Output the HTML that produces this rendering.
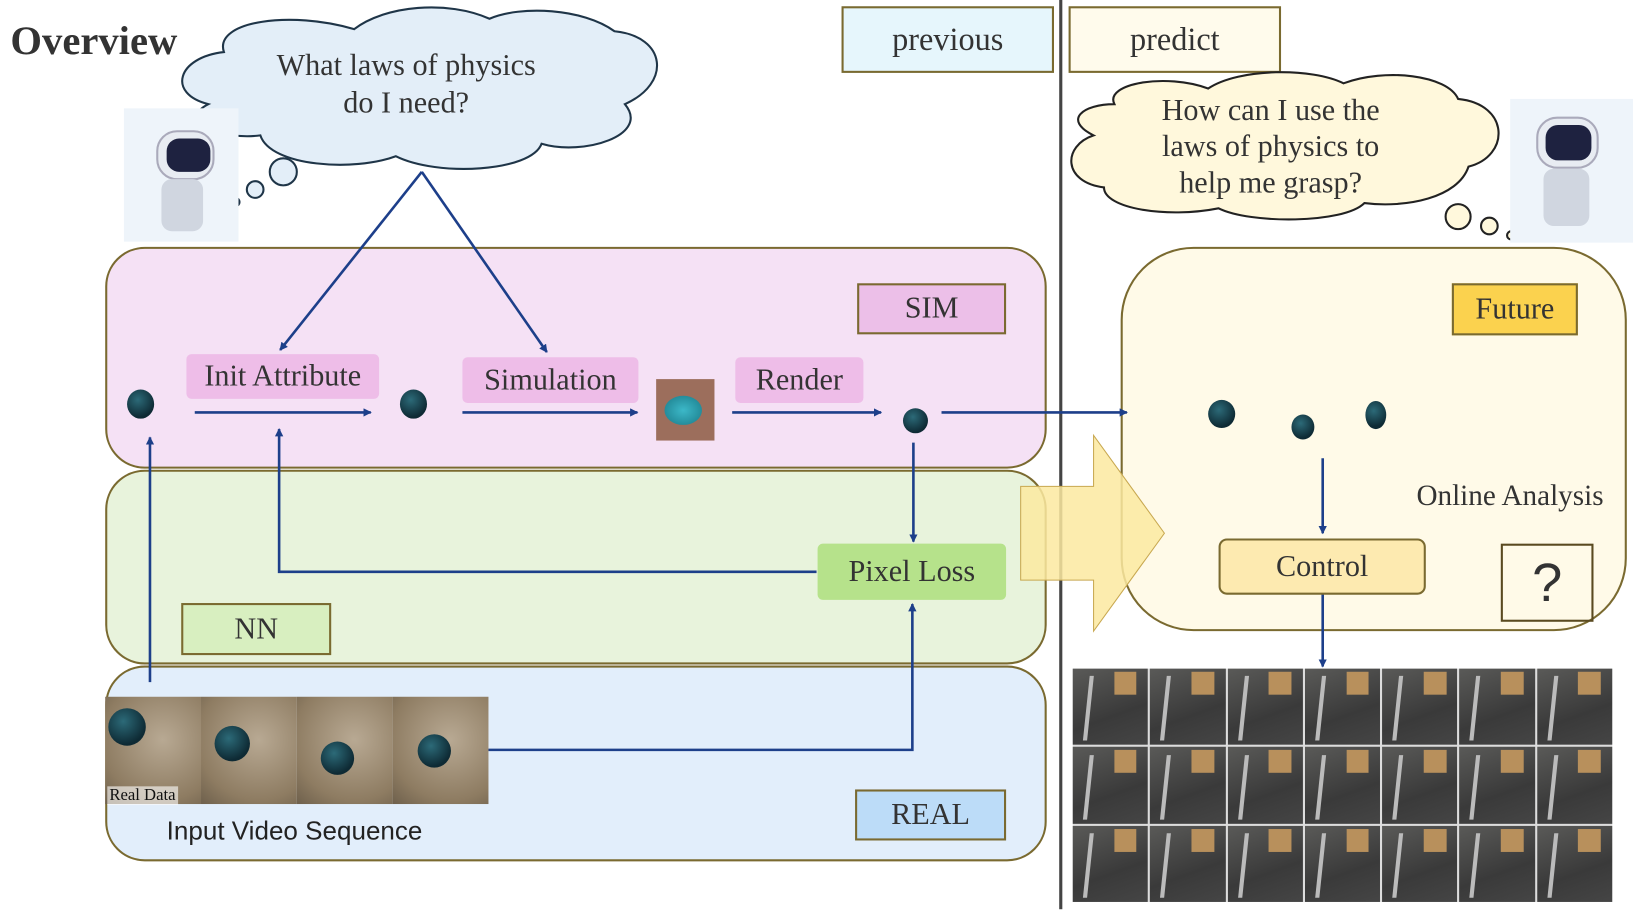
<!DOCTYPE html>
<html><head><style>
html,body{margin:0;width:1633px;height:910px;background:#fff;overflow:hidden}
#w{position:absolute;left:0;top:0;width:1568px;height:874px;transform:scale(1.0415);transform-origin:0 0;font-family:"Liberation Serif",serif;color:#333}
.a{position:absolute;box-sizing:border-box}
.t{display:flex;align-items:center;justify-content:center;font-size:29px}
.ph{background:linear-gradient(160deg,#5a5a58,#3a3a3a 60%,#454545);position:relative;overflow:hidden}
.ph:before{content:"";position:absolute;left:55%;top:4%;width:30%;height:30%;background:#b8905c}
.ph:after{content:"";position:absolute;left:18%;top:10%;width:5%;height:85%;background:#bbb;transform:skewX(-6deg)}
.vp{background:radial-gradient(circle at 60% 40%,#b8a993,#8e7c62 70%,#6e604c)}
.ball{position:absolute;border-radius:50%;background:radial-gradient(circle at 40% 35%,#2c6a78,#0e2a34 70%)}
</style></head><body><div id="w">
<div class="a" style="left:10px;top:17px;font-size:39px;font-weight:bold;color:#333">Overview</div>

<div class="a" style="left:1017px;top:0;width:3px;height:873px;background:#444"></div>

<div class="a t" style="left:808px;top:6px;width:204px;height:64px;background:#e6f6fc;border:2px solid #7a6a30;font-size:31px">previous</div>
<div class="a t" style="left:1026px;top:6px;width:204px;height:64px;background:#fffbec;border:2px solid #7a6a30;font-size:31px">predict</div>

<div class="a" style="left:101px;top:639px;width:904px;height:188px;background:#e2eefb;border:2px solid #7a6a30;border-radius:38px"></div>
<div class="a" style="left:101px;top:451px;width:904px;height:187px;background:#e8f3dc;border:2px solid #7a6a30;border-radius:38px"></div>
<div class="a" style="left:101px;top:237px;width:904px;height:213px;background:#f5e1f5;border:2px solid #7a6a30;border-radius:38px"></div>
<div class="a" style="left:1076px;top:237px;width:486px;height:369px;background:#fffae8;border:2px solid #7a6a30;border-radius:70px"></div>

<svg class="a" style="left:0;top:0" width="1568" height="874">
<defs><marker id="m" markerWidth="8" markerHeight="8" refX="7" refY="4" orient="auto" markerUnits="userSpaceOnUse"><path d="M0,0L8,4L0,8z" fill="#1d3f8a"/></marker></defs>
<path d="M980,467H1050V418L1118,512L1050,606V557H980z" fill="#fce9a0" fill-opacity="0.85" stroke="#c8a850" stroke-width="1"/>
<path d="M215,50C205,20,280,10,340,28C370,5,430,0,470,18C500,5,560,8,590,30C640,35,645,80,600,100C625,130,560,150,520,138C510,165,420,170,380,150C340,165,260,160,250,130C210,135,170,115,200,100C160,90,170,55,215,50z" fill="#e3eef8" stroke="#1f3548" stroke-width="2"/>
<circle cx="272" cy="165" r="13" fill="#e3eef8" stroke="#1f3548" stroke-width="2"/>
<circle cx="245" cy="182" r="8" fill="#e3eef8" stroke="#1f3548" stroke-width="2"/>
<circle cx="226" cy="194" r="4" fill="#e3eef8" stroke="#1f3548" stroke-width="2"/>
<path d="M1070,100C1060,80,1120,70,1160,85C1190,65,1260,65,1290,80C1330,65,1390,72,1400,95C1450,100,1450,150,1410,160C1400,190,1350,200,1310,195C1290,215,1200,215,1170,200C1120,210,1060,200,1060,180C1020,175,1020,140,1050,130C1020,115,1040,100,1070,100z" fill="#fff8dc" stroke="#222" stroke-width="2"/>
<circle cx="1400" cy="208" r="12" fill="#fff8dc" stroke="#222" stroke-width="2"/>
<circle cx="1430" cy="217" r="8" fill="#fff8dc" stroke="#222" stroke-width="2"/>
<circle cx="1451" cy="226" r="4" fill="#fff8dc" stroke="#222" stroke-width="2"/>
<g stroke="#1d3f8a" stroke-width="2.5" fill="none" marker-end="url(#m)">
<path d="M405,165L269,336"/><path d="M405,165L525,338"/>
<path d="M187,396H356"/><path d="M444,396H612"/><path d="M703,396H846"/>
<path d="M904,396H1082"/>
<path d="M877,425V520"/>
<path d="M784,549H268V412"/>
<path d="M144,655V420"/>
<path d="M469,720H876V580"/>
<path d="M1270,440V512"/>
<path d="M1270,570V640"/>
</g>
</svg>

<div class="a" style="left:220px;top:45px;width:340px;text-align:center;font-size:29px;line-height:36px">What laws of physics<br>do I need?</div>
<div class="a" style="left:1060px;top:89px;width:320px;text-align:center;font-size:29px;line-height:35px">How can I use the<br>laws of physics to<br>help me grasp?</div>

<div class="a" style="left:119px;top:104px;width:110px;height:128px;background:#eef4fa"></div>
<div class="a" style="left:150px;top:125px;width:56px;height:48px;background:#e8ecf2;border-radius:20px;border:2px solid #aab"></div>
<div class="a" style="left:160px;top:133px;width:42px;height:32px;background:#1e2240;border-radius:12px"></div>
<div class="a" style="left:155px;top:172px;width:40px;height:50px;background:#d0d6e0;border-radius:10px"></div>
<div class="a" style="left:1450px;top:95px;width:118px;height:138px;background:#eef4fa"></div>
<div class="a" style="left:1475px;top:112px;width:60px;height:50px;background:#e8ecf2;border-radius:20px;border:2px solid #aab"></div>
<div class="a" style="left:1484px;top:120px;width:44px;height:34px;background:#1e2240;border-radius:12px"></div>
<div class="a" style="left:1482px;top:162px;width:44px;height:55px;background:#d0d6e0;border-radius:10px"></div>

<div class="a t" style="left:823px;top:272px;width:143px;height:49px;background:#ecbfe8;border:2px solid #7a6a30">SIM</div>
<div class="a t" style="left:1394px;top:272px;width:121px;height:50px;background:#fbd24e;border:2px solid #7a6a30">Future</div>
<div class="a t" style="left:174px;top:579px;width:144px;height:50px;background:#d8efc0;border:2px solid #7a6a30">NN</div>
<div class="a t" style="left:821px;top:758px;width:145px;height:49px;background:#bcdcf8;border:2px solid #7a6a30">REAL</div>
<div class="a t" style="left:179px;top:340px;width:185px;height:43px;background:#eebde8;border-radius:5px">Init Attribute</div>
<div class="a t" style="left:444px;top:343px;width:169px;height:44px;background:#eebde8;border-radius:5px">Simulation</div>
<div class="a t" style="left:706px;top:343px;width:123px;height:44px;background:#eebde8;border-radius:5px">Render</div>
<div class="a t" style="left:785px;top:522px;width:181px;height:54px;background:#b6e28b;border-radius:5px">Pixel Loss</div>
<div class="a t" style="left:1170px;top:517px;width:199px;height:54px;background:#fdeab0;border:2px solid #7a6a30;border-radius:8px">Control</div>
<div class="a t" style="left:1441px;top:522px;width:89px;height:75px;border:2px solid #5a4a20;font-size:52px;font-family:'Liberation Sans',sans-serif;font-weight:300">?</div>
<div class="a" style="left:1360px;top:461px;font-size:28px">Online Analysis</div>

<div class="ball" style="left:122px;top:374px;width:26px;height:28px"></div>
<div class="ball" style="left:384px;top:374px;width:26px;height:28px"></div>
<div class="a" style="left:630px;top:364px;width:56px;height:59px;background:#9c6e5c"></div>
<div class="ball" style="left:638px;top:380px;width:36px;height:28px;background:radial-gradient(#3cb8c8,#1a7a88)"></div>
<div class="ball" style="left:867px;top:392px;width:24px;height:24px"></div>
<div class="ball" style="left:1160px;top:384px;width:26px;height:27px"></div>
<div class="ball" style="left:1240px;top:398px;width:22px;height:24px"></div>
<div class="ball" style="left:1311px;top:385px;width:20px;height:27px"></div>

<div class="a vp" style="left:101px;top:669px;width:92px;height:103px"></div>
<div class="a vp" style="left:193px;top:669px;width:92px;height:103px"></div>
<div class="a vp" style="left:285px;top:669px;width:92px;height:103px"></div>
<div class="a vp" style="left:377px;top:669px;width:92px;height:103px"></div>
<div class="ball" style="left:104px;top:680px;width:36px;height:36px"></div>
<div class="ball" style="left:206px;top:697px;width:34px;height:34px"></div>
<div class="ball" style="left:308px;top:712px;width:32px;height:32px"></div>
<div class="ball" style="left:401px;top:705px;width:32px;height:32px"></div>
<div class="a" style="left:103px;top:755px;font-size:16px;background:rgba(255,255,255,0.6);padding:0 2px;color:#111">Real Data</div>
<div class="a" style="left:160px;top:784px;font-size:25px;font-family:'Liberation Sans',sans-serif;color:#222">Input Video Sequence</div>

<div class="a" style="left:1030px;top:642px;width:518px;height:224px;display:grid;grid-template-columns:repeat(7,1fr);grid-template-rows:repeat(3,1fr);gap:2px;background:#ddd">
<div class="ph"></div><div class="ph"></div><div class="ph"></div><div class="ph"></div><div class="ph"></div><div class="ph"></div><div class="ph"></div>
<div class="ph"></div><div class="ph"></div><div class="ph"></div><div class="ph"></div><div class="ph"></div><div class="ph"></div><div class="ph"></div>
<div class="ph"></div><div class="ph"></div><div class="ph"></div><div class="ph"></div><div class="ph"></div><div class="ph"></div><div class="ph"></div>
</div>
</div></body></html>
